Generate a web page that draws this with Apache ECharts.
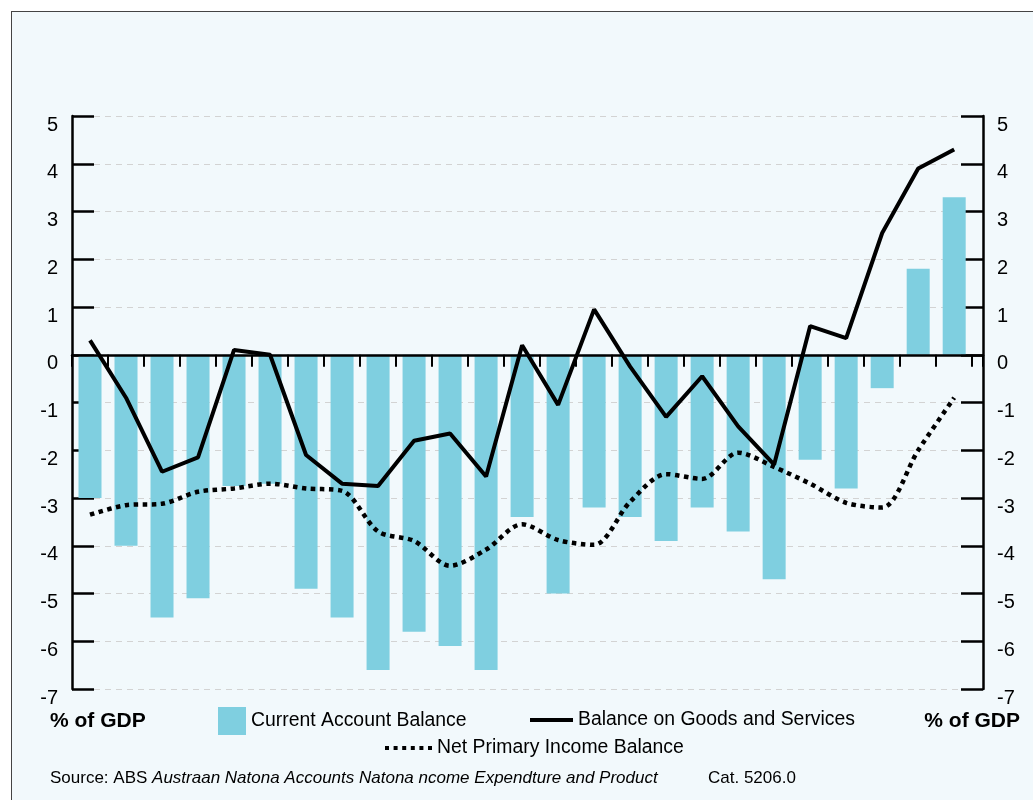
<!DOCTYPE html>
<html>
<head>
<meta charset="utf-8">
<title>Current account balance</title>
<script src="https://cdn.jsdelivr.net/npm/echarts@6.0.0/dist/echarts.min.js"></script>
<style>
  html, body { margin: 0; padding: 0; background: #fff; overflow: hidden; }
  #frame { position: absolute; left: 11px; top: 11px; width: 1100px; height: 900px;
           border-left: 1px solid #444; border-top: 1px solid #444; background: #f2f9fc; }
  #main { position: absolute; left: 0; top: 0; width: 1033px; height: 800px; }
</style>
</head>
<body>
<div id="frame"></div>
<div id="main"></div>
<script>
// financial years (no labels shown on the axis)
var years = ['1996-97','1997-98','1998-99','1999-00','2000-01','2001-02','2002-03','2003-04',
             '2004-05','2005-06','2006-07','2007-08','2008-09','2009-10','2010-11','2011-12',
             '2012-13','2013-14','2014-15','2015-16','2016-17','2017-18','2018-19','2019-20','2020-21'];

// % of GDP
var currentAccount = [-3.0,-4.0,-5.5,-5.1,-2.75,-2.7,-4.9,-5.5,-6.6,-5.8,-6.1,-6.6,-3.4,
                      -5.0,-3.2,-3.4,-3.9,-3.2,-3.7,-4.7,-2.2,-2.8,-0.7,1.8,3.3];
var goodsServices  = [0.3,-0.9,-2.45,-2.15,0.1,0.0,-2.1,-2.7,-2.75,-1.8,-1.65,-2.55,0.2,
                      -1.05,0.95,-0.25,-1.3,-0.45,-1.5,-2.3,0.6,0.35,2.55,3.9,4.3];
var netPrimary     = [-3.35,-3.15,-3.12,-2.87,-2.8,-2.7,-2.8,-2.85,-3.7,-3.9,-4.42,-4.08,-3.55,
                      -3.88,-3.98,-3.08,-2.5,-2.6,-2.05,-2.35,-2.7,-3.1,-3.2,-2.0,-0.9];

var seriesNames = ['Current Account Balance','Balance on Goods and Services','Net Primary Income Balance'];
var yMin = -7, yMax = 5, yStep = 1;

var FONT = 'Liberation Sans, Arial, Helvetica, sans-serif';

// each year sits in the middle of its slot on the x scale
function toPoints(arr){
	var pts = new Array();
	for(var i = 0; i < arr.length; i++){
		pts.push([i + 0.5, arr[i]]);
	}
	return pts;
}

function yAxisCfg(pos, withGrid){
	return {
		type: 'value', position: pos, min: yMin, max: yMax, interval: yStep,
		axisLine: { show: true, lineStyle: { color: '#000', width: 2.5 } },
		axisTick: { show: true, inside: true, length: 22, lineStyle: { color: '#000', width: 2.5 } },
		axisLabel: { color: '#000', fontSize: 20, fontFamily: FONT, margin: 14,
		             verticalAlign: 'top', lineHeight: 18 },
		splitLine: { show: withGrid, lineStyle: { color: '#d3d3d3', width: 1, type: [6, 5] } }
	};
}

var myChart = echarts.init(document.getElementById('main'), null, { renderer: 'canvas' });
var option = {
	backgroundColor: 'transparent',
	animation: false,
	title: [
		{ text: '% of GDP', left: 50, top: 711, padding: 0,
		  textStyle: { fontSize: 21, fontWeight: 'bold', color: '#000', fontFamily: FONT } },
		{ text: '% of GDP', right: 13, top: 711, padding: 0,
		  textStyle: { fontSize: 21, fontWeight: 'bold', color: '#000', fontFamily: FONT } },
		{ text: '{n|Source: ABS }{i|Austraan Natona Accounts Natona ncome Expendture and Product}',
		  left: 50, top: 770, padding: 0,
		  textStyle: { fontWeight: 'normal', rich: {
			n: { fontSize: 17, color: '#000', fontFamily: FONT, fontWeight: 'normal' },
			i: { fontSize: 17, color: '#000', fontFamily: FONT, fontWeight: 'normal', fontStyle: 'italic' }
		  } } },
		{ text: 'Cat. 5206.0', left: 708, top: 770, padding: 0,
		  textStyle: { fontSize: 17, fontWeight: 'normal', color: '#000', fontFamily: FONT } }
	],
	legend: [
		{ data: [{ name: seriesNames[0], icon: 'rect' }], left: 218, top: 707, padding: 0,
		  itemWidth: 28, itemHeight: 28, selectedMode: false,
		  textStyle: { fontSize: 19.4, color: '#000', fontFamily: FONT } },
		{ data: [{ name: seriesNames[1], icon: 'rect' }], left: 530, top: 710, padding: 0,
		  itemWidth: 43, itemHeight: 4, selectedMode: false,
		  itemStyle: { borderWidth: 0 },
		  textStyle: { fontSize: 19.4, color: '#000', fontFamily: FONT, lineHeight: 20 } },
		{ data: [{ name: seriesNames[2],
		           icon: 'path://M0,0h4v4h-4z M8.6,0h4v4h-4z M17.2,0h4v4h-4z M25.8,0h4v4h-4z M34.4,0h4v4h-4z M43,0h4v4h-4z' }],
		  left: 385, top: 738, padding: 0,
		  itemWidth: 47, itemHeight: 4, selectedMode: false,
		  itemStyle: { borderWidth: 0 },
		  textStyle: { fontSize: 19.4, color: '#000', fontFamily: FONT, lineHeight: 20 } }
	],
	grid: { left: 72, top: 116, width: 911, height: 573, containLabel: false, outerBoundsMode: 'none' },
	xAxis: {
		type: 'value', min: 0, max: 25.3, interval: 1, z: 5,
		axisLine: { show: true, onZero: true, lineStyle: { color: '#000', width: 2.5 } },
		axisTick: { show: true, inside: false, length: 12, lineStyle: { color: '#000', width: 2 } },
		axisLabel: { show: false },
		splitLine: { show: false }
	},
	yAxis: [ yAxisCfg('left', true), yAxisCfg('right', false) ],
	series: [
		{
			name: seriesNames[0], type: 'bar', barWidth: 23,
			itemStyle: { color: '#7fcfe0' },
			data: toPoints(currentAccount)
		},
		{
			name: seriesNames[1], type: 'line', color: '#000',
			symbol: 'none', smooth: false, z: 6,
			lineStyle: { color: '#000', width: 4 },
			data: toPoints(goodsServices)
		},
		{
			name: seriesNames[2], type: 'line', color: '#000',
			symbol: 'none', smooth: 0.3, z: 6,
			lineStyle: { color: '#000', width: 4.5, type: [4.5, 4.5] },
			data: toPoints(netPrimary)
		}
	]
};
myChart.setOption(option);
</script>
</body>
</html>
